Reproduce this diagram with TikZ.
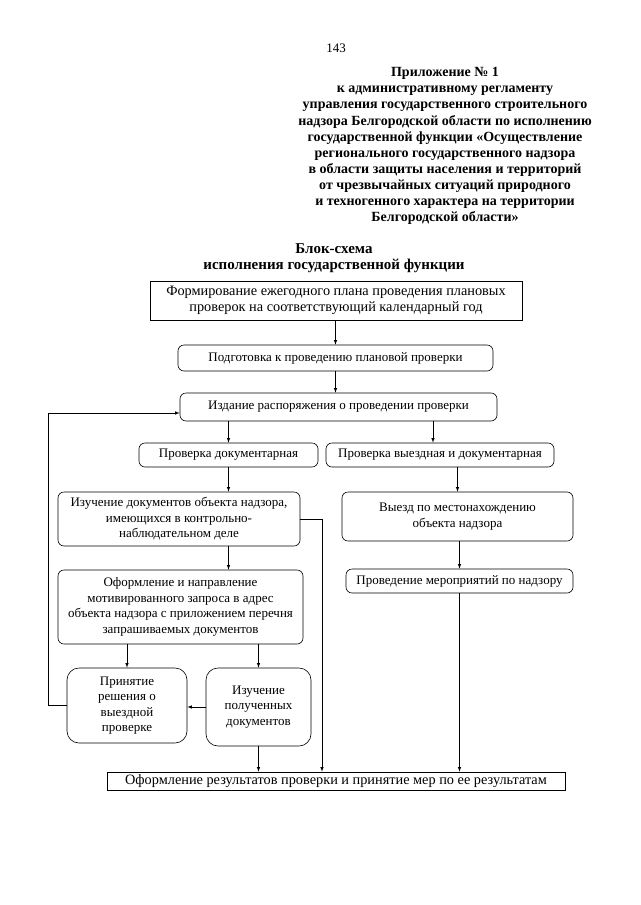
\documentclass[tikz,border=0pt]{standalone}
\usepackage{fontspec}
\setmainfont{Liberation Serif}
\usetikzlibrary{calc, positioning}

\begin{document}
\begin{tikzpicture}[>=latex, x=1pt, y=-1pt,
    blk/.style={draw, rounded corners=6pt, line width=0.6pt, align=center,
        inner sep=0pt, font=\fontsize{13}{15.5}\selectfont},
    sqblk/.style={blk, rounded corners=0pt, font=\fontsize{14.3}{16.5}\selectfont},
    conn/.style={->, line width=0.6pt}]
    \useasboundingbox (0,0) rectangle (640,905);
    % 1. Шапка и заголовок
    \node[font=\fontsize{13}{15}\selectfont] (pagenum) at (336,48) {143};
    \node[align=center, anchor=north, font=\bfseries\fontsize{14}{16.1}\selectfont]
        (head) at (445,64) {Приложение № 1\\к административному регламенту\\
        управления государственного строительного\\
        надзора Белгородской области по исполнению\\
        государственной функции «Осуществление\\
        регионального государственного надзора\\
        в области защиты населения и территорий\\
        от чрезвычайных ситуаций природного\\
        и техногенного характера на территории\\
        Белгородской области»};
    \node[align=center, font=\bfseries\fontsize{15}{16.5}\selectfont]
        (title) at (334,258) {Блок-схема\\исполнения государственной функции};

    % 2. Блоки
    \node[sqblk, minimum width=372, minimum height=39] (plan) at (336,300.5)
        {Формирование ежегодного плана проведения плановых\\проверок на соответствующий календарный год};
    \node[blk, minimum width=315, minimum height=26] (prep) at (335.5,358)
        {Подготовка к проведению плановой проверки};
    \node[blk, minimum width=317, minimum height=28] (order) at (338.5,407)
        {Издание распоряжения о проведении проверки};
    \node[blk, minimum width=179, minimum height=24] (docchk) at (228.5,455)
        {Проверка документарная};
    \node[blk, minimum width=228, minimum height=24] (fieldchk) at (440,455)
        {Проверка выездная и документарная};
    \node[blk, minimum width=242, minimum height=54] (study) at (179,519)
        {Изучение документов объекта надзора,\\имеющихся в контрольно-\\наблюдательном деле};
    \node[blk, minimum width=245, minimum height=74] (request) at (180.5,607)
        {Оформление и направление\\мотивированного запроса в адрес\\объекта надзора с приложением перечня\\запрашиваемых документов};
    \node[blk, rounded corners=12pt, minimum width=120, minimum height=75] (decide) at (127,705.5)
        {Принятие\\решения о\\выездной\\проверке};
    \node[blk, rounded corners=12pt, minimum width=105, minimum height=78] (recv) at (258.5,707)
        {Изучение\\полученных\\документов};
    \node[blk, minimum width=231, minimum height=49] (visit) at (457.5,516.5)
        {Выезд по местонахождению\\объекта надзора};
    \node[blk, minimum width=227, minimum height=24] (measures) at (459.5,581)
        {Проведение мероприятий по надзору};
    \node[sqblk, minimum width=458, minimum height=18] (result) at (336,781)
        {Оформление результатов проверки и принятие мер по ее результатам};

    % 3. Связи
    \coordinate (bypass) at (322,0);
    \coordinate (loop) at (48,0);
    \draw[conn] (plan.south -| prep.north) -- (prep.north);
    \draw[conn] (prep.south) -- (prep.south |- order.north);
    \draw[conn] (order.south -| docchk.north) -- (docchk.north);
    \draw[conn] ([xshift=-7pt]order.south -| fieldchk.north) -- ([xshift=-7pt]fieldchk.north);
    \draw[conn] (docchk.south) -- (docchk.south |- study.north);
    \draw[conn] (study.south -| docchk.south) -- (request.north -| docchk.south);
    \draw[conn] (request.south -| decide.north) -- (decide.north);
    \draw[conn] (request.south -| recv.north) -- (recv.north);
    \draw[conn] (recv.west) -- (recv.west -| decide.east);
    \draw[conn] (recv.south) -- (recv.south |- result.north);
    \draw[conn] (study.east) -| (bypass |- result.north);
    \draw[conn] (fieldchk.south -| visit.north) -- (visit.north);
    \draw[conn] (visit.south -| measures.north) -- (measures.north);
    \draw[conn] (measures.south) -- (measures.south |- result.north);
    \draw[conn] (decide.west) -- (decide.west -| loop) |- ([yshift=-6pt]order.west);
\end{tikzpicture}
\end{document}
